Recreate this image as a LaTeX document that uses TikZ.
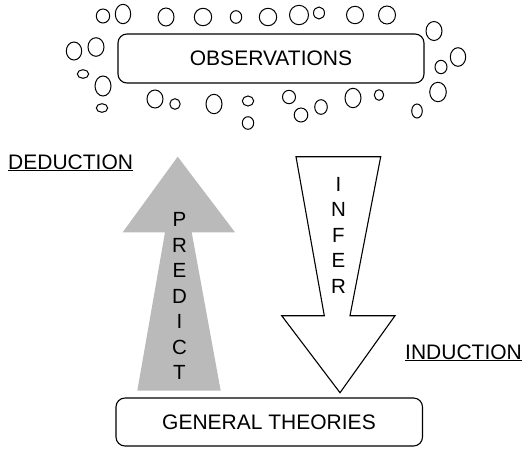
\documentclass[tikz,border=0pt]{standalone}
\usepackage{fontspec}
\setmainfont{Liberation Sans}
\begin{document}
\begin{tikzpicture}[x=1pt,y=-1pt,
  box/.style={draw,line width=1.1pt,rounded corners=9pt},
  lbl/.style={font=\fontsize{21}{25}\selectfont,inner sep=0pt},
  arrlbl/.style={font=\fontsize{20.5}{25.5}\selectfont,inner sep=0pt,align=center},
  bub/.style={draw,line width=1pt}]
\useasboundingbox (0,0) rectangle (524,448);
% boxes
\draw[box] (118,34) rectangle (424,83);
\node[lbl] (obs) at (271,58.5) {OBSERVATIONS};
\draw[box] (116,398) rectangle (422.5,446);
\node[lbl] (gen) at (269,422) {GENERAL THEORIES};
% bubbles
\foreach \x/\y/\a/\b in {
 103/16/6.7/7, 123/14/7.7/9.7, 166/17/8/9, 203/17/8.7/8.7, 236/17/5.7/6.3,
 268/17/8.7/8.7, 299/15/9.5/9.7, 319/13/5.5/6, 355/15/8.5/8.7, 387/15/8.5/9,
 434/31/8/9.5, 458/57/7.7/9.3, 441/67/6/6.7, 438/92/8.3/9.7, 417/111/5.3/7,
 379/95/4.7/5.3, 353/98/8/9.7, 321/107/6.3/7.3, 301/115/6.8/7, 289/97/6.5/6.7,
 248/101/5.7/5, 248/123/5.7/6.3, 214/104/8/9.7, 175/104/5.2/5.3, 155/99/8/9,
 102/108/5.7/4.3, 103/86/8/10, 83/74/5.7/4.3, 74/51/7.7/9, 96/47/8/9.3}
 \draw[bub] (\x,\y) ellipse [x radius=\a pt, y radius=\b pt];
% PREDICT arrow
\fill[fill=black!27] (177.7,156.7) -- (235,232.3) -- (191.7,232.3) -- (220.7,390.7)
  -- (137.3,390.7) -- (165,232.3) -- (122.7,232.3) -- cycle;
\node[arrlbl] (pred) at (179.5,296) {P\\R\\E\\D\\I\\C\\T};
% INFER arrow
\draw[line width=1.1pt,fill=white,line join=miter] (296,156.7) -- (380.7,156.7) -- (350,315.7)
  -- (395,315.7) -- (340,392.7) -- (281.7,315.7) -- (324.3,315.7) -- cycle;
\node[arrlbl] (inf) at (338.5,235) {I\\N\\F\\E\\R};
% labels
\node[lbl,anchor=base west] (ded) at (8,169) {\underline{DEDUCTION}};
\node[lbl,anchor=base west] (ind) at (405,359) {\underline{INDUCTION}};
\end{tikzpicture}
\end{document}
